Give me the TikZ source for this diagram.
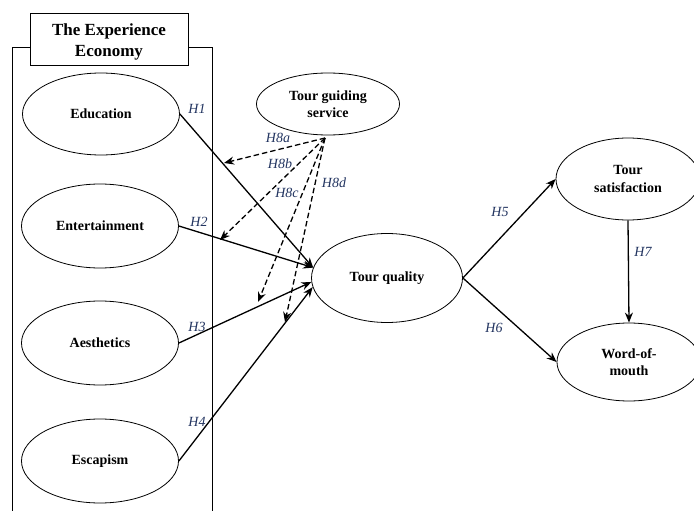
\documentclass[tikz,border=0pt]{standalone}
\usepackage{fontspec}
\setmainfont{Liberation Serif}
\usetikzlibrary{shapes.geometric,arrows.meta}
\definecolor{hypblue}{RGB}{34,52,96}
\tikzset{
	construct/.style={ellipse, draw, line width=0.8pt, inner sep=0pt, align=center,
		font=\fontsize{14}{17.5}\selectfont\bfseries},
	hyp/.style={font=\fontsize{14}{16}\selectfont\itshape, text=hypblue, inner sep=0pt},
	path/.style={line width=1.3pt, -{Stealth[length=10pt,width=8pt]}},
	moderate/.style={line width=1.3pt, dash pattern=on 5.5pt off 3pt, -{Stealth[length=10pt,width=8pt]}}
}

\begin{document}
\begin{tikzpicture}[x=1pt, y=-1pt]
			%%%%% START %%%%%
			\useasboundingbox (0, 0) rectangle (694, 511);
			
			\draw[line width=0.8pt] (12, 520) -- (12, 47) -- (212, 47) -- (212, 520);
			\draw[fill=white, line width=0.8pt] (30, 13) rectangle (188, 65);
			\node[align=center, inner sep=0pt, font=\fontsize{17}{20.5}\selectfont\bfseries] (title) at (109, 42) {The Experience\\Economy};
			
			\node[construct, minimum width=157pt, minimum height=82pt] (edu) at (101, 114) {Education};
			\node[construct, minimum width=157pt, minimum height=84pt] (ent) at (100, 226) {Entertainment};
			\node[construct, minimum width=157pt, minimum height=84pt] (aes) at (100, 343) {Aesthetics};
			\node[construct, minimum width=157pt, minimum height=84pt] (esc) at (100, 461) {Escapism};
			
			\node[construct, minimum width=143pt, minimum height=62pt] (tgs) at (328, 104) {Tour guiding\\service};
			\node[construct, minimum width=151pt, minimum height=89pt] (tq) at (387, 278) {Tour quality};
			\node[construct, minimum width=144pt, minimum height=82pt] (ts) at (628, 179) {Tour\\satisfaction};
			\node[construct, minimum width=144pt, minimum height=78pt] (wom) at (629, 362) {Word-of-\\mouth};
			
			\draw[path] (edu.east) -- (tq.172);
			\draw[path] (ent.east) -- (tq.172);
			\draw[path] (aes.east) -- (tq.183);
			\draw[path] (esc.east) -- (tq.187);
			\draw[path] (tq.east) -- (ts.west);
			\draw[path] (tq.east) -- (wom.west);
			\draw[path] (ts.south) -- (wom.north);
			
			\coordinate (src) at (325, 138);
			\coordinate (h8a) at (224, 163);
			\coordinate (h8b) at (220, 240);
			\coordinate (h8c) at (258, 302);
			\coordinate (h8d) at (285, 322);
			\draw[moderate] (src) -- (h8a);
			\draw[moderate] (src) -- (h8b);
			\draw[moderate] (src) -- (h8c);
			\draw[moderate] (src) -- (h8d);
			
			\node[hyp] (lh1) at (197, 109) {H1};
			\node[hyp] (lh2) at (199, 222) {H2};
			\node[hyp] (lh3) at (197, 327) {H3};
			\node[hyp] (lh4) at (197, 422) {H4};
			\node[hyp] (lh5) at (500, 212) {H5};
			\node[hyp] (lh6) at (494, 328) {H6};
			\node[hyp] (lh7) at (643, 252) {H7};
			\node[hyp] (lh8a) at (278, 138) {H8a};
			\node[hyp] (lh8b) at (280, 164) {H8b};
			\node[hyp] (lh8c) at (287, 193) {H8c};
			\node[hyp] (lh8d) at (334, 183) {H8d};
			
			%%%%% END %%%%%
		\end{tikzpicture}
\end{document}
